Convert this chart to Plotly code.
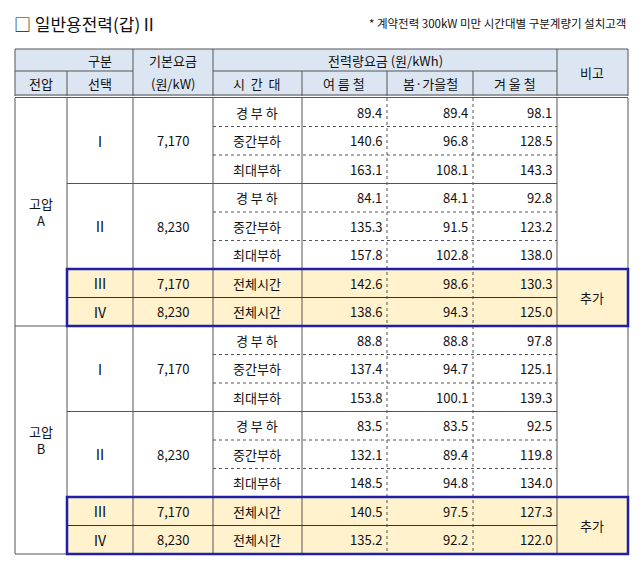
import plotly.graph_objects as go

voltages = ["고압<br>A", "고압<br>B"]
options = ["Ⅰ", "Ⅱ", "Ⅲ", "Ⅳ"]
base_fee = ["7,170", "8,230", "7,170", "8,230"]
time_bands = ["경 부 하", "중간부하", "최대부하"]
all_time = "전체시간"
summer = [89.4, 140.6, 163.1, 84.1, 135.3, 157.8, 142.6, 138.6,
          88.8, 137.4, 153.8, 83.5, 132.1, 148.5, 140.5, 135.2]
spring = [89.4, 96.8, 108.1, 84.1, 91.5, 102.8, 98.6, 94.3,
          88.8, 94.7, 100.1, 83.5, 89.4, 94.8, 97.5, 92.2]
winter = [98.1, 128.5, 143.3, 92.8, 123.2, 138.0, 130.3, 125.0,
          97.8, 125.1, 139.3, 92.5, 119.8, 134.0, 127.3, 122.0]

W, H = 640, 563
OFF = 8  # page body margin
xs = [15, 67, 133, 213, 302, 387, 473, 557, 628]
top0, rh = 98, 28.5
def ry(i): return top0 + i * rh

FONT = "Noto Sans CJK KR"
shapes, ann = [], []
LC = "#555"
def line(x0, y0, x1, y1, color=LC, width=1, dash="solid"):
    shapes.append(dict(type="line", x0=x0, y0=y0, x1=x1, y1=y1,
                       line=dict(color=color, width=width, dash=dash), layer="above"))
def rect(x0, y0, x1, y1, fill, lc=None, lw=0):
    shapes.append(dict(type="rect", x0=x0, y0=y0, x1=x1, y1=y1, fillcolor=fill,
                       line=dict(color=lc or fill, width=lw), layer="below"))
def text(x, y, t, size=13, anchor="center", color="#111"):
    ann.append(dict(x=x, y=y, text=t, showarrow=False, xanchor=anchor, yanchor="middle",
                    font=dict(family=FONT, size=size, color=color)))

rect(xs[0], 49, xs[-1], 96, "#dce6f2")
for g in range(2):
    b = 8 * g
    rect(xs[1], ry(b + 6), xs[-1], ry(b + 8), "#fff2cc")

line(xs[0], 49, xs[-1], 49)
line(xs[0], 71, xs[2], 71)
line(xs[3], 71, xs[7], 71)
line(xs[0], 95, xs[-1], 95)
line(xs[0], 97.5, xs[-1], 97.5)
for x in [xs[0], xs[2], xs[3], xs[7], xs[-1]]:
    line(x, 49, x, 96)
for x in [xs[1], xs[4], xs[5], xs[6]]:
    line(x, 71, x, 96)
text(100, 60, "구분"); text(173, 60, "기본요금"); text(385, 60, "전력량요금 (원/kWh)")
text(41, 83, "전압"); text(100, 83, "선택"); text(173, 83, "(원/kW)")
text(257, 83, "시  간  대"); text(344, 83, "여 름 철"); text(430, 83, "봄·가을철")
text(515, 83, "겨 울 철"); text(592, 72, "비고")

for x in [xs[0], xs[1], xs[2], xs[3], xs[4], xs[7], xs[-1]]:
    line(x, top0, x, ry(16))
for x in [xs[5], xs[6]]:
    line(x, top0, x, ry(16), dash="dot")

for g in range(2):
    b = 8 * g
    text(41, (ry(b) + ry(b + 8)) / 2, voltages[g])
    for k in range(2):
        r0 = b + 3 * k
        text(100, (ry(r0) + ry(r0 + 3)) / 2, options[k], size=14)
        text(173, (ry(r0) + ry(r0 + 3)) / 2, base_fee[k])
        line(xs[1], ry(r0 + 3), xs[7], ry(r0 + 3))
        for j in range(1, 3):
            line(xs[3], ry(r0 + j), xs[7], ry(r0 + j), dash="dot")
        for j in range(3):
            text(257, (ry(r0 + j) + ry(r0 + j + 1)) / 2, time_bands[j])
    for k in range(2, 4):
        r = b + 6 + (k - 2)
        yc = (ry(r) + ry(r + 1)) / 2
        text(100, yc, options[k], size=14)
        text(173, yc, base_fee[k])
        text(257, yc, all_time)
    line(xs[1], ry(b + 7), xs[7], ry(b + 7), color="#333")
    text(592, ry(b + 7), "추가")
    line(xs[0], ry(b + 8), xs[-1], ry(b + 8))
    shapes.append(dict(type="rect", x0=xs[1], y0=ry(b + 6), x1=xs[-1], y1=ry(b + 8),
                       line=dict(color="#1f1fa8", width=2.5), layer="above"))

for i in range(16):
    yc = (ry(i) + ry(i + 1)) / 2
    for col, vals in zip([xs[5], xs[6], xs[7]], [summer, spring, winter]):
        text(col - 3, yc, f"{vals[i]:.1f}", anchor="right")

text(12, 23, "□ 일반용전력(갑)Ⅱ", size=17, anchor="left")
text(628, 23, "* 계약전력 300kW 미만 시간대별 구분계량기 설치고객", size=11.5, anchor="right")

fig = go.Figure()
fig.update_layout(width=W, height=H, margin=dict(l=0, r=0, t=0, b=0),
                  plot_bgcolor="white", paper_bgcolor="white",
                  xaxis=dict(range=[OFF, W + OFF], visible=False, fixedrange=True),
                  yaxis=dict(range=[H + OFF, OFF], visible=False, fixedrange=True),
                  shapes=shapes, annotations=ann, showlegend=False)
fig.write_html("out.html")
